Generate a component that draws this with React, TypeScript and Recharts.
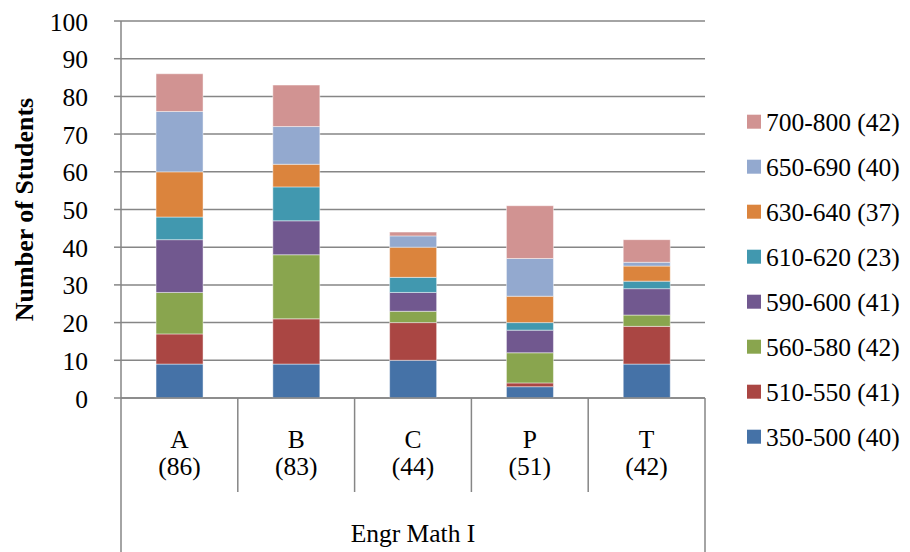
import React from 'react';
import { BarChart, Bar, XAxis, YAxis, CartesianGrid } from 'recharts';

// Course sections and the number of students in each
const categories = ['A', 'B', 'C', 'P', 'T'];
const categoryTotals = [86, 83, 44, 51, 42];

// Score bands, stacked bottom to top
const bandNames = ['350-500', '510-550', '560-580', '590-600', '610-620', '630-640', '650-690', '700-800'];
const bandTotals = [40, 41, 42, 41, 23, 37, 40, 42];
const bandColors = ['#4572A7', '#AA4643', '#89A54E', '#71588F', '#4198AF', '#DB843D', '#93A9CF', '#D19392'];

// Students per band, one value per section (A, B, C, P, T)
const band350_500 = [9, 9, 10, 3, 9];
const band510_550 = [8, 12, 10, 1, 10];
const band560_580 = [11, 17, 3, 8, 3];
const band590_600 = [14, 9, 5, 6, 7];
const band610_620 = [6, 9, 4, 2, 2];
const band630_640 = [12, 6, 8, 7, 4];
const band650_690 = [16, 10, 3, 10, 1];
const band700_800 = [10, 11, 1, 14, 6];

const bandValues = [band350_500, band510_550, band560_580, band590_600, band610_620, band630_640, band650_690, band700_800];

const yTicks = [0, 10, 20, 30, 40, 50, 60, 70, 80, 90, 100];
const groupTitle = 'Engr Math I';
const yTitle = 'Number of Students';

const data = categories.map((cat, i) => {
  const row: Record<string, string | number> = { cat, label: `(${categoryTotals[i]})` };
  bandNames.forEach((b, k) => {
    row[b] = bandValues[k][i];
  });
  return row;
});

const FONT = "'Liberation Serif', 'Times New Roman', serif";
const GRID = '#868686';
const FS = 25.5;

const W = 910;
const H = 552;
const PLOT_LEFT = 121;
const PLOT_RIGHT = 705;
const PLOT_TOP = 21;
const PLOT_BOTTOM = 398;
const HALF_BAND = (PLOT_RIGHT - PLOT_LEFT) / categories.length / 2;

function SText(props: { x: number; y: number; anchor?: string; size?: number; children: React.ReactNode }) {
  const { x, y, anchor = 'middle', size = FS, children } = props;
  return (
    <text x={x} y={y} textAnchor={anchor as any} fontFamily={FONT} fontSize={size} fill="#000">
      {children}
    </text>
  );
}

function ValueTick(props: any) {
  const { x, y, payload } = props;
  return <SText x={x} y={y + 9.5} anchor="end">{payload.value}</SText>;
}

function CategoryTick(props: any) {
  const { x, payload, index } = props;
  const y = PLOT_BOTTOM;
  const last = index === categories.length - 1;
  const left = x - HALF_BAND;
  const right = x + HALF_BAND;
  return (
    <g>
      <line x1={left} x2={left} y1={y} y2={index === 0 ? H : y + 94} stroke={GRID} strokeWidth={1.5} />
      {last && <line x1={right} x2={right} y1={y} y2={H} stroke={GRID} strokeWidth={1.5} />}
      <SText x={x} y={y + 50}>{payload.value}</SText>
      <SText x={x} y={y + 77}>{`(${categoryTotals[index]})`}</SText>
    </g>
  );
}

function GroupLabel(props: any) {
  const vb = props.viewBox || { x: PLOT_LEFT, y: PLOT_BOTTOM, width: PLOT_RIGHT - PLOT_LEFT };
  return <SText x={vb.x + vb.width / 2} y={vb.y + 143.5}>{groupTitle}</SText>;
}

function YTitle(props: any) {
  const vb = props.viewBox || { y: PLOT_TOP, height: PLOT_BOTTOM - PLOT_TOP };
  const cy = vb.y + vb.height / 2;
  return (
    <text
      transform={`translate(33,${cy}) rotate(-90)`}
      textAnchor="middle"
      fontFamily={FONT}
      fontSize={26}
      fontWeight="bold"
      fill="#000"
    >
      {yTitle}
    </text>
  );
}

function LegendBox() {
  const order = bandNames.map((_, i) => i).reverse();
  return (
    <svg width={W} height={H} style={{ position: 'absolute', left: 0, top: 0, pointerEvents: 'none' }}>
      {order.map((k, row) => {
        const cy = 121.7 + row * 45;
        return (
          <g key={bandNames[k]}>
            <rect x={747} y={cy - 7} width={14} height={14} fill={bandColors[k]} />
            <SText x={766} y={cy + 9} anchor="start">{`${bandNames[k]} (${bandTotals[k]})`}</SText>
          </g>
        );
      })}
    </svg>
  );
}

export default function App() {
  return (
    <div style={{ position: 'fixed', left: 0, top: 0, width: W, height: H, background: '#fff' }}>
      <BarChart
        width={W}
        height={H}
        data={data}
        margin={{ top: PLOT_TOP, right: W - PLOT_RIGHT, bottom: 0, left: 0 }}
        barCategoryGap="30%"
      >
        <CartesianGrid vertical={false} stroke={GRID} strokeWidth={1.5} />
        <XAxis
          dataKey="cat"
          height={H - PLOT_BOTTOM}
          interval={0}
          tickLine={false}
          tickSize={0}
          tickMargin={0}
          axisLine={{ stroke: GRID, strokeWidth: 1.5 }}
          tick={<CategoryTick />}
          label={<GroupLabel />}
        />
        <YAxis
          width={PLOT_LEFT}
          domain={[0, 100]}
          ticks={yTicks}
          interval={0}
          tickSize={7}
          tickMargin={26}
          axisLine={{ stroke: GRID, strokeWidth: 1.5 }}
          tickLine={{ stroke: GRID, strokeWidth: 1.5 }}
          tick={<ValueTick />}
          label={<YTitle />}
        />
        {bandNames.map((b, k) => (
          <Bar
            key={b}
            dataKey={b}
            stackId="grades"
            fill={bandColors[k]}
            stroke="rgba(255,255,255,0.45)"
            strokeWidth={1}
            isAnimationActive={false}
          />
        ))}
      </BarChart>
      <LegendBox />
    </div>
  );
}
